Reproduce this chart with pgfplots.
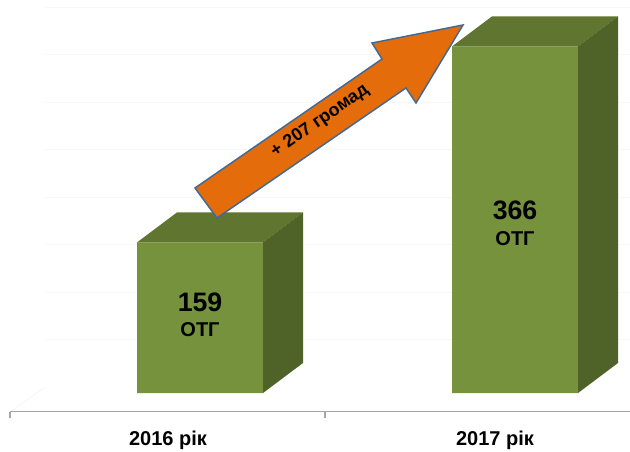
\documentclass[border=0pt]{standalone}
\usepackage{pgfplots}
\pgfplotsset{compat=1.18}
\usepackage{fontspec}
\setmainfont{Liberation Sans}
\definecolor{barfront}{RGB}{118,146,60}
\definecolor{bartop}{RGB}{95,117,48}
\definecolor{barside}{RGB}{79,98,40}
\definecolor{arrowfill}{RGB}{228,108,10}
\definecolor{arrowedge}{RGB}{65,105,150}

\begin{document}
\begin{tikzpicture}
\begin{axis}[
    x=0.75pt, y=0.71025pt,
    xmin=0, xmax=630, ymin=-20, ymax=415,
    axis line style={draw=none},
    major tick length=0pt,
    ytick=\empty,
    xtick={168,495},
    xticklabels={2016 рік, 2017 рік},
    x tick label style={font=\fontsize{15}{18}\selectfont\bfseries,
        anchor=base, inner sep=0pt, yshift=-25.5pt},
    clip=false,
]
% faint back wall grid
\foreach \g in {407.6,357.4,307.3,257.1,207.0,156.8,106.7,56.5}{
  \edef\tmp{\noexpand\draw[black!3, line width=0.6pt] (axis cs:45,\g) -- (axis cs:630,\g);}\tmp
}
\draw[black!4, line width=0.6pt] (axis cs:10,-20) -- (axis cs:45,6);
% category axis
\draw[black!35, line width=0.8pt] (axis cs:10,-20) -- (axis cs:630,-20);
\draw[black!35, line width=0.8pt] (axis cs:10,-20) -- (axis cs:10,-26);
\draw[black!35, line width=0.8pt] (axis cs:325,-20) -- (axis cs:325,-26);

% fronts of both bars: 159 and 366
\addplot[ybar, bar width=126, fill=barfront, draw=none] coordinates {(200,159) (515,366)};
% 2016 top and side
\addplot[fill=bartop, draw=none] coordinates {(137,159) (263,159) (303,190.7) (177,190.7)};
\addplot[fill=barside, draw=none] coordinates {(263,0) (303,31.7) (303,190.7) (263,159)};
% 2017 top and side
\addplot[fill=bartop, draw=none] coordinates {(452,366) (578,366) (618,397.7) (492,397.7)};
\addplot[fill=barside, draw=none] coordinates {(578,0) (618,31.7) (618,397.7) (578,366)};

\node[font=\fontsize{20}{24}\selectfont\bfseries] at (axis cs:200,96) {159};
\node[font=\fontsize{15}{18}\selectfont\bfseries] at (axis cs:200,66.5) {ОТГ};
\node[font=\fontsize{20}{24}\selectfont\bfseries] at (axis cs:515,193) {366};
\node[font=\fontsize{15}{18}\selectfont\bfseries] at (axis cs:515,163.5) {ОТГ};

% growth arrow
\draw[fill=arrowfill, draw=arrowedge, line width=1.1pt, line join=miter]
  (axis cs:195,216.5) -- (axis cs:382,352.7) -- (axis cs:372,369.6)
  -- (axis cs:463,388.6) -- (axis cs:416,306.2) -- (axis cs:406,322.1)
  -- (axis cs:217,184.8) -- cycle;
\node[font=\fontsize{13.5}{16}\selectfont\bfseries, rotate=34.6] at (axis cs:320,287) {+ 207 громад};

\coordinate (BL) at (axis cs:0,-61.25);
\coordinate (TR) at (axis cs:630,415);
\end{axis}
\pgfresetboundingbox
\path (BL) rectangle (TR);
\end{tikzpicture}
\end{document}
